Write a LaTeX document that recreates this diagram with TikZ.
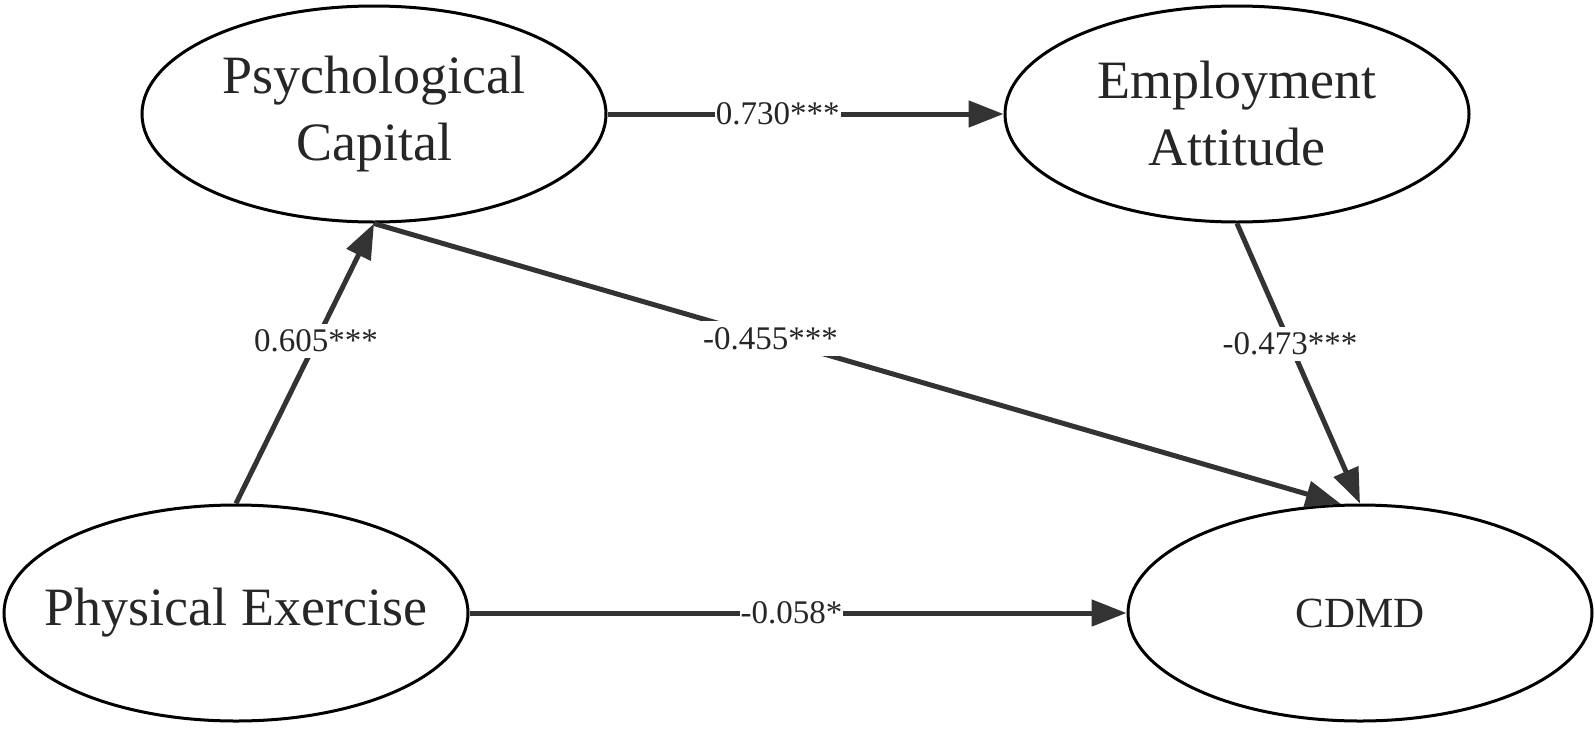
\documentclass[tikz,border=0pt]{standalone}
\usepackage{fontspec}
\setmainfont{Liberation Serif}
\usetikzlibrary{arrows.meta,shapes.geometric}
\definecolor{arr}{HTML}{333333}
\definecolor{txt}{HTML}{262626}
\begin{document}
\begin{tikzpicture}[x=1pt,y=-1pt,
  latent/.style={ellipse, draw=black, line width=3pt, minimum width=464pt, minimum height=216pt, inner sep=0pt, text=txt, align=center, font=\fontsize{54}{67}\selectfont},
  smalllatent/.style={latent, font=\fontsize{43}{52}\selectfont},
  pathline/.style={draw=arr, line width=5pt, -{Triangle[length=35pt,width=26pt]}},
  coef/.style={fill=white, text=txt, inner xsep=1pt, inner ysep=6pt, font=\fontsize{33}{40}\selectfont}]
\useasboundingbox (0,0) rectangle (1595,728);
\node[latent] (pc) at (374,114) {Psychological\\Capital};
\node[latent] (ea) at (1237,114) {Employment\\Attitude};
\node[latent] (pe) at (236,613) {\makebox[0pt]{Physical Exercise}};
\node[smalllatent] (cd) at (1360,613) {CDMD};
\draw[pathline] (pc.east) -- node[coef, pos=0.43] {0.730***} (ea.west);
\draw[pathline] (pe.north) -- node[coef, pos=0.58] {0.605***} (pc.south);
\draw[pathline] (pc.south) -- node[coef, pos=0.41] {-0.455***} (cd.100);
\draw[pathline] (ea.south) -- node[coef, pos=0.43] {-0.473***} (cd.north);
\draw[pathline] (pe.east) -- node[coef, pos=0.49] {-0.058*} (cd.west);
\end{tikzpicture}
\end{document}
